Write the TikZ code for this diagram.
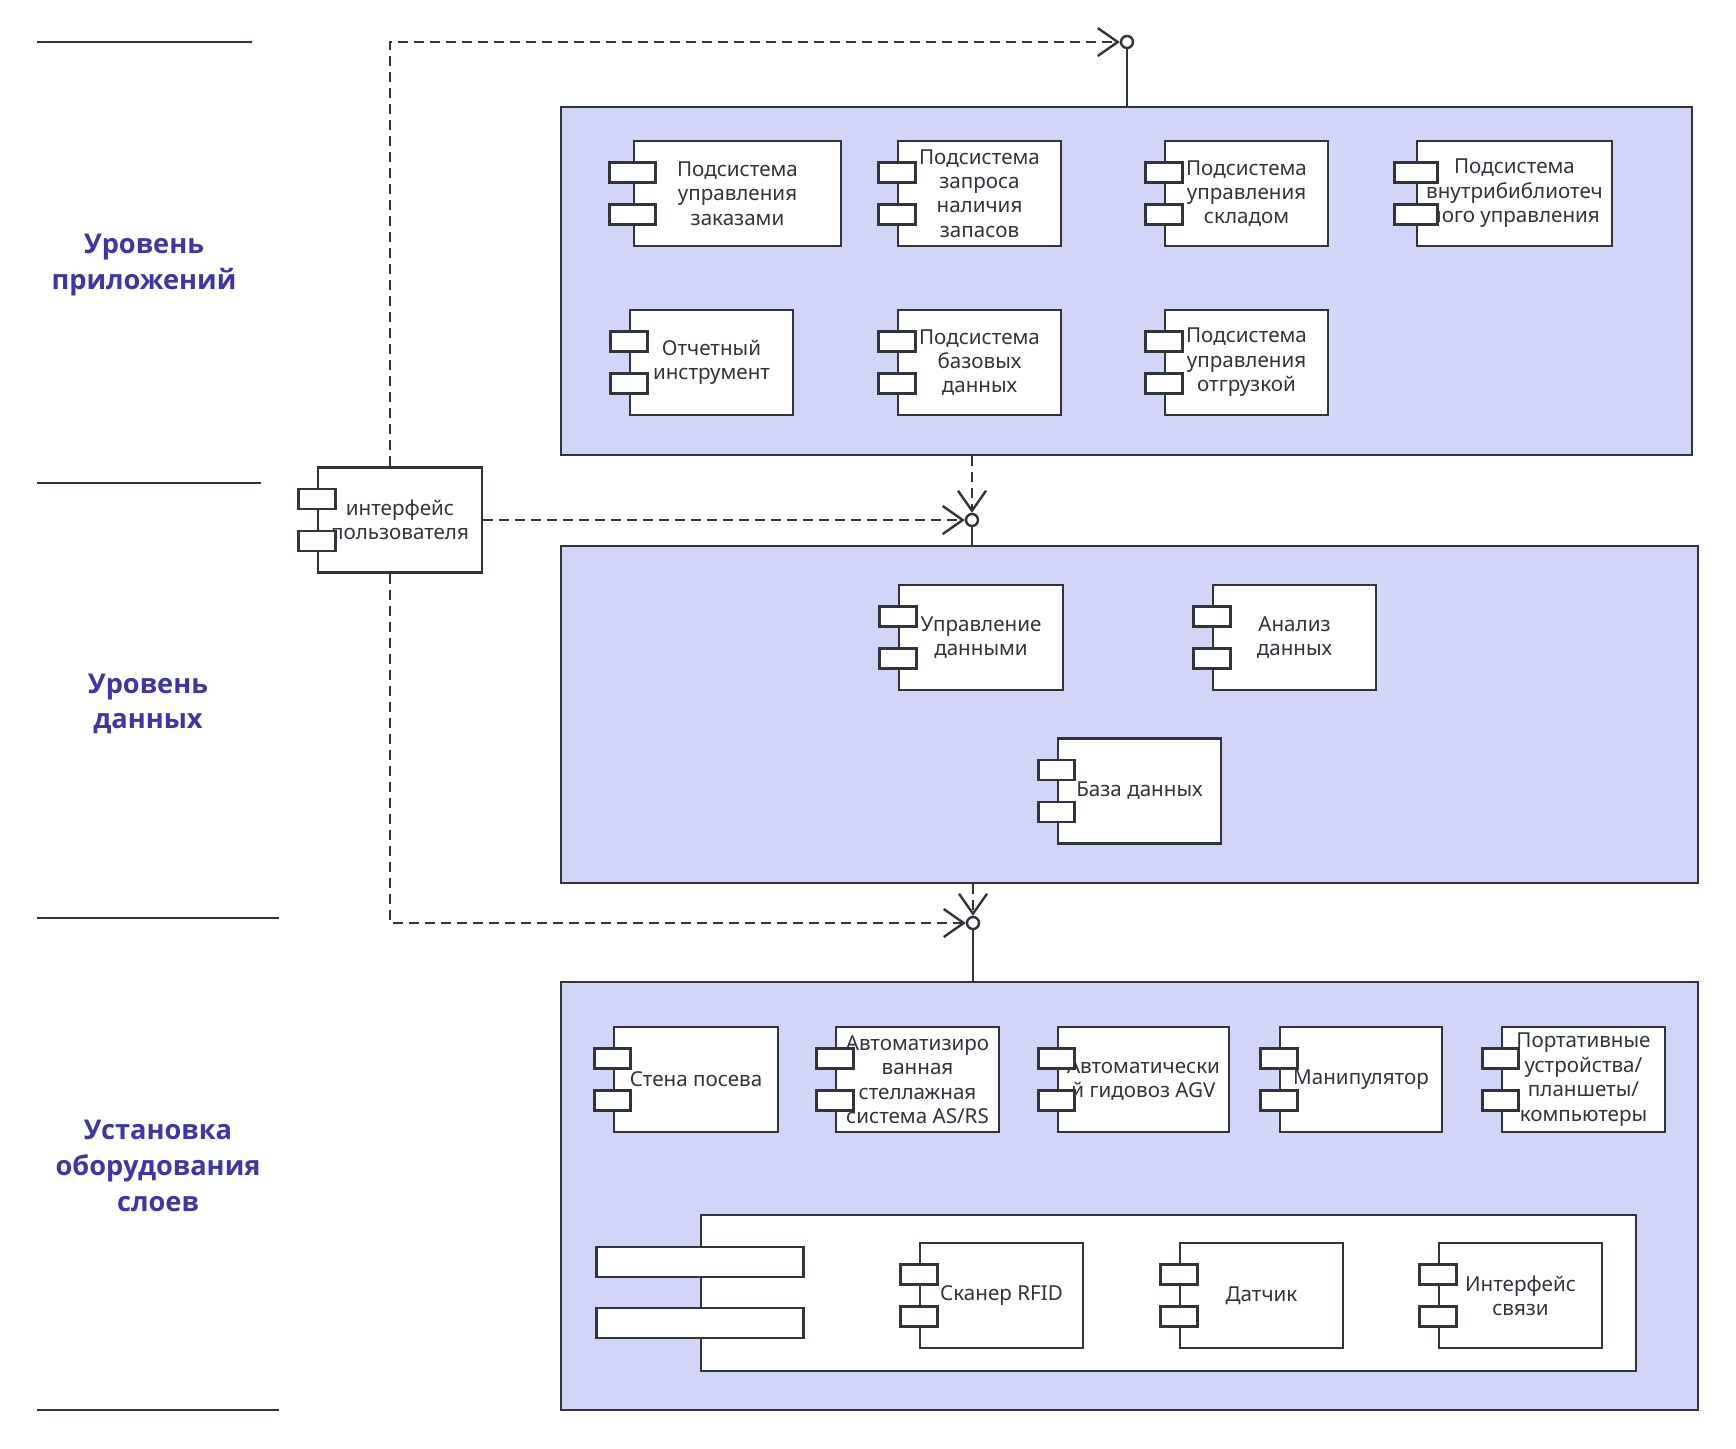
\documentclass[tikz,border=0pt]{standalone}
\usepackage{fontspec}
\setmainfont{Noto Sans}
\newfontfamily\ttlfont{Open Sans}
\usepackage{tikz}
\usetikzlibrary{arrows.meta}
\usetikzlibrary{calc}
\definecolor{ln}{HTML}{30343B}
\definecolor{lav}{HTML}{D3D5F8}
\definecolor{ttc}{HTML}{3D35A8}

\begin{document}
\begin{tikzpicture}[x=0.5pt, y=-0.5pt,
    pnl/.style={draw=ln, fill=lav, line width=1.3pt, inner sep=0pt},
    cmp/.style={draw=ln, fill=white, line width=1.3pt, inner sep=0pt,
                minimum height=52.5pt, align=center, text=ln,
                font=\fontsize{10.3}{12.2}\selectfont},
    prt/.style={draw=ln, fill=white, line width=1.3pt, inner sep=0pt,
                minimum width=18.5pt, minimum height=10pt},
    lol/.style={circle, draw=ln, fill=white, line width=1.2pt, inner sep=0pt,
                minimum size=6pt},
    dep/.style={draw=ln, line width=1.2pt, dash pattern=on 5pt off 3pt,
                -{Straight Barb[length=10pt,width=14pt]}},
    sep/.style={draw=ln, line width=1.3pt},
    ttl/.style={text=ttc, align=center,
                font=\ttlfont\fontsize{13.6}{17.8}\selectfont\bfseries}]
  \useasboundingbox (0,0) rectangle (1736,1448);

  % layer labels
  \foreach \y/\xr in {42/252, 483/261, 918/279, 1410/279}
    \draw[sep] (37,\y) -- (\xr,\y);
  \node[ttl] (lapp) at (144,265) {Уровень\\приложений};
  \node[ttl] (ldat) at (148,704) {Уровень\\данных};
  \node[ttl] (lhw) at (158,1166) {Установка\\оборудования\\слоев};

  % layer panels
  \node[pnl, minimum width=565.5pt, minimum height=174pt] (pa) at (1126.5,281) {};
  \node[pnl, minimum width=568.5pt, minimum height=168.5pt] (pd) at (1129.5,714.5) {};
  \node[pnl, minimum width=568.5pt, minimum height=214pt] (ph) at (1129.5,1196) {};
  \node[cmp, minimum width=467.5pt, minimum height=78pt] (hb) at (1168.5,1293) {};
  \node[prt, minimum width=103.5pt, minimum height=15pt] (hb-p1) at ([yshift=15.5pt]hb.west) {};
  \node[prt, minimum width=103.5pt, minimum height=15pt] (hb-p2) at ([yshift=-15pt]hb.west) {};

  % components
  \foreach \n/\l/\r/\y/\w/\t in {
      a1/634/841/193.5/23pt/{Подсистема\\управления\\заказами},
      a2/898/1061/193.5/18.5pt/{Подсистема\\запроса\\наличия\\запасов},
      a3/1165/1328/193.5/18.5pt/{Подсистема\\управления\\складом},
      a4/1417/1612/193.5/21.5pt/{Подсистема\\внутрибиблиотеч\\ного управления},
      a5/630/793/362.5/18.5pt/{Отчетный\\инструмент},
      a6/898/1061/362.5/18.5pt/{Подсистема\\базовых\\данных},
      a7/1165/1328/362.5/18.5pt/{Подсистема\\управления\\отгрузкой},
      d1/899/1063/637.5/18.5pt/{Управление\\данными},
      d2/1213/1376/637.5/18.5pt/{Анализ\\данных},
      d3/1058/1221/791/18pt/{База данных},
      h1/614/778/1079.5/18pt/{Стена посева},
      h2/836/999/1079.5/18.5pt/{Автоматизиро\\ванная\\стеллажная\\система AS/RS},
      h3/1058/1229/1079.5/18pt/{Автоматически\\й гидовоз AGV},
      h4/1280/1442/1079.5/18.5pt/{Манипулятор},
      h5/1502/1665/1079.5/18pt/{Портативные\\устройства/\\планшеты/\\компьютеры},
      s1/920/1083/1295.5/18.5pt/{Сканер RFID},
      s2/1180/1343/1295.5/18.5pt/{Датчик},
      s3/1439/1602/1295.5/18.5pt/{Интерфейс\\связи},
      ui/318/482/520/18.5pt/{интерфейс\\пользователя}}{
    \node[cmp, minimum width={(\r-\l)*0.5pt}] (\n) at ({(\l+\r)/2},\y) {\t};
    \node[prt, minimum width=\w] (\n-p1) at ([yshift=10.5pt]\n.west) {};
    \node[prt, minimum width=\w] (\n-p2) at ([yshift=-10.5pt]\n.west) {};}

  % interfaces
  \node[lol] (ia) at (1127,42) {};
  \node[lol] (id) at (972,520) {};
  \node[lol] (ih) at (973,923) {};
  \draw[sep, line width=1.2pt] (ia.south) -- (ia.south |- pa.north);
  \draw[sep, line width=1.2pt] (id.south) -- (id.south |- pd.north);
  \draw[sep, line width=1.2pt] (ih.south) -- (ih.south |- ph.north);

  % dependencies
  \draw[dep] ($(ui.north)+(-10,0)$) |- (ia.west);
  \draw[dep] (ui.east) -- (id.west);
  \draw[dep] (pa.south -| id) -- (id.north);
  \draw[dep] ($(ui.south)+(-10,0)$) |- (ih.west);
  \draw[dep] (pd.south -| ih) -- (ih.north);
\end{tikzpicture}
\end{document}
